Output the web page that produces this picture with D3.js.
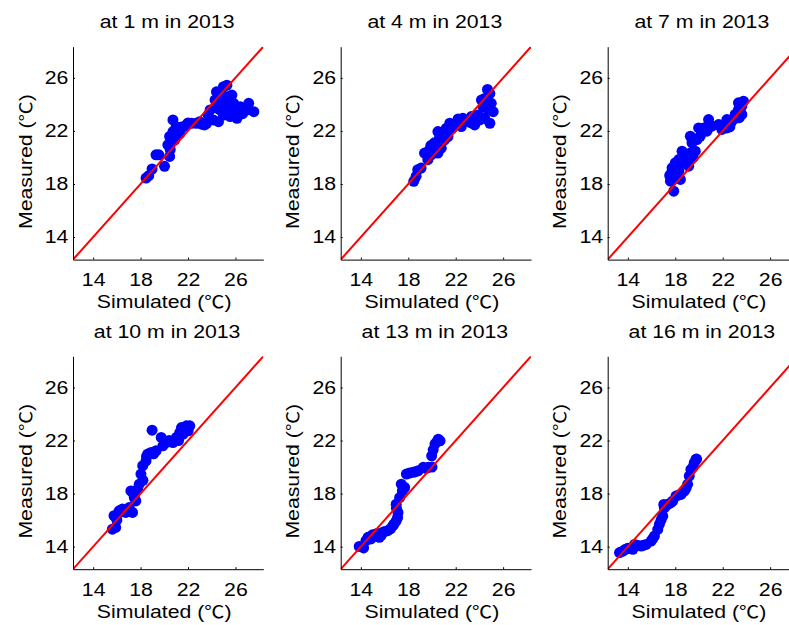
<!DOCTYPE html>
<html><head><meta charset="utf-8">
<script src="https://cdn.jsdelivr.net/npm/d3@7"></script>
<style>body{margin:0;background:#fff}</style>
</head><body>
<svg id="chart" width="789" height="625"></svg>
<script>
// ---------- data ----------
const depths = ["1", "4", "7", "10", "13", "16"];
const year = "2013";
const tickValues = [14, 18, 22, 26];
const axisDomain = [12.3, 28.35];
const xLabel = "Simulated (";
const yLabel = "Measured (";
const unit = "℃";

const sim_1m  = [18.46,18.69,18.97,19.3,19.54,20.02,20.45,20.3,20.45,20.73,20.73,21.0,20.87,21.3,21.44,21.87,22.3,22.7,22.98,23.4,23.7,23.57,23.86,24.28,24.4,24.7,24.99,25.28,25.42,25.7,25.85,24.7,24.14,24.57,24.99,25.56,26.13,26.41,27.12,27.55,26.98,25.85,25.28,25.56,20.6,20.9,21.1,21.6,20.5,22.0,24.5,25.0,25.3,24.8,26.0,26.6,23.2];
const meas_1m = [18.45,18.63,19.13,20.2,20.2,19.33,20.08,20.95,21.58,21.95,22.83,22.3,21.3,21.8,22.3,22.45,22.58,22.58,22.7,22.45,23.2,22.58,23.58,24.33,24.95,24.33,25.33,25.45,24.58,24.7,24.08,23.58,22.83,22.7,23.2,23.08,22.95,23.83,24.08,23.45,23.58,23.33,23.58,23.95,21.2,21.7,22.0,22.3,20.6,22.6,23.7,24.0,23.8,24.9,23.5,23.3,22.5];

const sim_4m  = [18.46,18.66,18.8,19.08,19.37,19.65,19.79,20.07,19.93,20.36,20.5,20.64,20.78,20.5,20.93,21.2,21.35,21.5,21.06,21.77,22.33,22.6,22.47,23.04,23.32,23.6,23.89,24.17,24.31,24.45,24.68,24.88,25.0,25.16,24.88,24.45,24.03,24.73,24.4,19.6,19.9,20.2,20.6,21.0,20.8,21.7,22.2,23.3,23.8];
const meas_4m = [18.2,18.58,19.08,19.2,20.33,19.83,20.58,20.83,20.2,21.08,20.33,21.33,20.7,21.95,21.83,22.2,21.58,22.58,21.33,22.33,22.7,22.95,22.33,22.7,23.08,22.45,23.2,24.33,23.83,24.45,25.13,24.83,24.08,23.45,22.58,22.95,22.83,23.58,23.95,20.3,20.9,21.1,21.4,21.9,21.1,22.2,22.9,22.6,22.8];

const sim_7m  = [17.87,17.59,17.53,17.73,18.15,18.43,18.29,18.57,19.0,19.13,19.27,19.41,19.27,19.69,19.83,19.97,20.39,20.81,20.67,21.09,21.65,21.93,22.35,22.35,22.77,23.05,23.33,23.33,23.61,23.61,23.19,23.75,17.7,18.0,18.3,18.8,19.5,20.1,20.3,22.6,23.4,18.0];
const meas_7m = [17.46,18.21,18.64,19.22,19.34,18.34,19.84,20.47,19.84,19.34,20.34,21.1,21.6,20.47,21.35,22.23,22.23,22.86,21.98,22.36,22.48,22.11,22.23,22.86,22.73,23.24,23.61,24.12,23.86,23.24,22.98,24.24,18.9,19.6,19.0,19.6,20.0,21.6,22.0,22.3,23.0,18.5];

const sim_10m  = [15.62,15.9,15.76,16.19,16.47,16.76,17.04,17.32,17.18,17.47,17.6,17.75,17.89,18.03,18.18,18.46,18.6,18.89,18.97,19.31,19.74,19.88,20.16,20.73,21.02,21.3,21.59,21.87,22.15,22.01,21.45,16.0,16.3,17.4,18.2,18.5,19.1,20.4,21.2,21.8];
const meas_10m = [15.32,15.45,16.33,16.7,16.83,16.58,16.95,16.58,18.2,17.7,17.45,18.33,18.71,19.47,20.1,20.47,20.98,21.1,22.78,21.23,22.23,21.6,21.85,21.85,22.23,22.6,22.48,23.11,23.11,22.73,22.98,16.0,16.6,18.0,19.0,20.8,21.0,22.0,22.0,22.8];

const sim_13m  = [13.86,14.23,14.43,14.85,15.28,15.56,15.85,16.27,16.7,16.98,17.13,16.98,17.27,17.41,17.69,17.84,18.4,18.83,19.26,19.68,19.97,20.25,20.53,20.68,15.7,16.5,17.1,18.1,20.0,14.6,15.0,15.4,16.0,16.8,17.0,17.5,18.6,19.5,20.1,20.4];
const meas_13m = [14.02,13.9,14.45,14.58,14.95,14.7,15.07,15.2,15.58,15.95,16.58,17.2,17.7,18.71,18.46,19.47,19.6,19.72,19.98,19.98,20.85,21.73,22.1,21.98,14.83,15.35,16.2,19.55,20.0,14.7,14.9,15.0,15.15,15.7,16.9,18.2,19.65,19.9,21.3,21.9];

const sim_16m  = [13.3,13.58,14.0,14.42,14.56,15.12,15.54,15.96,16.24,16.52,16.66,16.94,17.08,17.36,17.78,18.06,18.48,18.76,19.04,19.18,19.32,19.6,19.74,17.03,13.8,14.8,15.3,16.1,16.8,17.2,17.6,18.3,18.9,19.5,19.8];
const meas_16m = [13.55,13.67,13.87,13.8,14.17,14.05,14.17,14.42,14.8,15.3,15.68,16.3,16.93,17.18,17.44,17.81,17.94,18.19,18.7,19.32,19.82,20.33,20.58,17.18,13.8,14.1,14.1,14.6,16.0,17.1,17.3,17.9,18.4,20.0,20.6];

const simSeries  = [sim_1m, sim_4m, sim_7m, sim_10m, sim_13m, sim_16m];
const measSeries = [meas_1m, meas_4m, meas_7m, meas_10m, meas_13m, meas_16m];

// ---------- layout ----------
const colLeft = [73, 340.7, 607.7];
const rowTop = [46.7, 356.3];
const W = 190.3, H = 212.9;
const FONT = "'Liberation Sans', Arial, Helvetica, sans-serif";
const CJK = "'Noto Sans CJK SC', 'DejaVu Sans', sans-serif";
const FS = 18.5, SX = 1.15;

const svg = d3.select("#chart");

function label(g, x, y, str, anchor, rot, withUnit) {
  const t = g.append("text")
    .attr("transform", `translate(${x},${y}) rotate(${rot || 0}) scale(${SX},1)`)
    .attr("text-anchor", anchor)
    .attr("font-family", FONT)
    .attr("font-size", FS)
    .attr("fill", "#000");
  t.append("tspan").text(str);
  if (withUnit) {
    t.append("tspan").attr("font-family", CJK).attr("font-size", FS - 1).text(unit);
    t.append("tspan").text(")");
  }
}

depths.forEach((d, i) => {
  const c = i % 3, r = Math.floor(i / 3);
  const g = svg.append("g").attr("transform", `translate(${colLeft[c]},${rowTop[r]})`);
  const x = d3.scaleLinear().domain(axisDomain).range([0, W]);
  const y = d3.scaleLinear().domain(axisDomain).range([H, 0]);

  const clipId = "clip" + i;
  g.append("clipPath").attr("id", clipId).append("rect").attr("width", W).attr("height", H);

  const pts = simSeries[i].map((s, k) => ({ s, m: measSeries[i][k] }));
  g.append("g").attr("clip-path", `url(#${clipId})`)
    .selectAll("circle").data(pts).join("circle")
    .attr("cx", p => x(p.s)).attr("cy", p => y(p.m)).attr("r", 5.5)
    .attr("fill", "#0000ff");

  g.append("g").attr("clip-path", `url(#${clipId})`)
    .append("line")
    .attr("x1", x(axisDomain[0])).attr("y1", y(axisDomain[0]))
    .attr("x2", x(axisDomain[1])).attr("y2", y(axisDomain[1]))
    .attr("stroke", "#ff0000").attr("stroke-width", 2);

  const xa = g.append("g").attr("transform", `translate(0,${H})`)
    .call(d3.axisBottom(x).tickValues(tickValues).tickSizeInner(-2).tickSizeOuter(0).tickPadding(13.4));
  const ya = g.append("g")
    .call(d3.axisLeft(y).tickValues(tickValues).tickSizeInner(-2).tickSizeOuter(0).tickPadding(4));
  [xa, ya].forEach(a => {
    a.select(".domain").attr("stroke", "#000").attr("stroke-width", 1);
    a.selectAll(".tick line").attr("stroke", "#000");
    a.selectAll("text").attr("font-family", FONT).attr("font-size", FS).attr("fill", "#000")
      .attr("transform", `scale(${SX},1)`);
  });

  label(g, W / 2 - 1, -18.4, `at ${d} m in ${year}`, "middle");
  label(g, W / 2 - 4, H + 48.6, xLabel, "middle", 0, true);
  label(g, -41.5, H / 2 + 8.5, yLabel, "middle", -90, true);
});
</script>
</body></html>
